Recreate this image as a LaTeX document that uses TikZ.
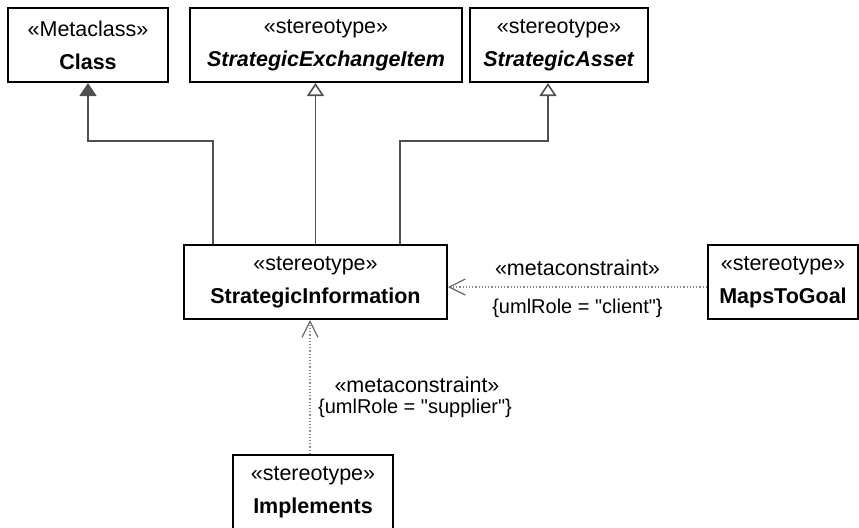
\documentclass[tikz,border=0pt]{standalone}
\usepackage{fontspec}
\setmainfont{Liberation Sans}
\usepackage{xcolor}
\usepackage{tikz}
\usetikzlibrary{arrows.meta,positioning}
\definecolor{linec}{HTML}{505050}
\definecolor{depc}{HTML}{8A8A8A}
\definecolor{tipc}{HTML}{606060}
\tikzset{
  cls/.style={draw=black,line width=1pt,fill=white,align=center,inner sep=0pt,
    minimum height=37pt,font=\fontsize{10.75}{16.5}\selectfont},
  gen/.style={-{Triangle[open,length=6.5pt,width=8.5pt]},line width=0.8pt,linec},
  genf/.style={-{Triangle[length=6.5pt,width=8.5pt]},line width=0.8pt,linec},
  dep/.style={-{Straight Barb[length=8pt,width=8pt,color=tipc]},densely dotted,line width=0.6pt,depc},
  lbl/.style={inner sep=0pt,text=black,font=\fontsize{10.75}{13}\selectfont},
  cons/.style={inner sep=0pt,text=black,font=\fontsize{10}{12}\selectfont}
}
\begin{document}
\begin{tikzpicture}[x=0.5pt,y=0.5pt]
\clip (0,0) rectangle (859,527);
% top row
\node[cls,minimum width=80pt] (class) at (88,482) {«Metaclass»\\\textbf{Class}};
\node[cls,minimum width=136pt] (sei) at (326,482) {«stereotype»\\\textbf{\textit{StrategicExchangeItem}}};
\node[cls,minimum width=89pt] (asset) at (559,482) {«stereotype»\\\textbf{\textit{StrategicAsset}}};
% middle row
\node[cls,minimum width=131.5pt] (info) at (315.5,245) {«stereotype»\\\textbf{StrategicInformation}};
\node[cls,minimum width=75pt] (goal) at (783,245) {«stereotype»\\\textbf{MapsToGoal}};
% bottom
\node[cls,minimum width=80pt] (impl) at (313,35) {«stereotype»\\\textbf{Implements}};
% generalizations
\draw[genf] ([xshift=-51.25pt]info.north) -- ++(0,103) -| (class.south);
\draw[gen] (info.north) -- (info.north |- sei.south);
\draw[gen] ([xshift=42.25pt]info.north) -- ++(0,103) -| ([xshift=-5.5pt]asset.south);
% metaconstraints
\draw[dep] ([yshift=-2.5pt]goal.west) -- ([yshift=-2.5pt]info.east)
  node[lbl,midway,yshift=9.5pt] {«metaconstraint»}
  node[cons,midway,yshift=-10.5pt] {\{umlRole = \textquotedbl client\textquotedbl\}};
\draw[dep] ([xshift=-1.5pt]impl.north) -- ([xshift=-1.5pt]impl.north |- info.south)
  node[lbl,midway,xshift=53.5pt,yshift=1pt] {«metaconstraint»}
  node[cons,midway,xshift=52.5pt,yshift=-10.5pt] {\{umlRole = \textquotedbl supplier\textquotedbl\}};
\end{tikzpicture}
\end{document}
